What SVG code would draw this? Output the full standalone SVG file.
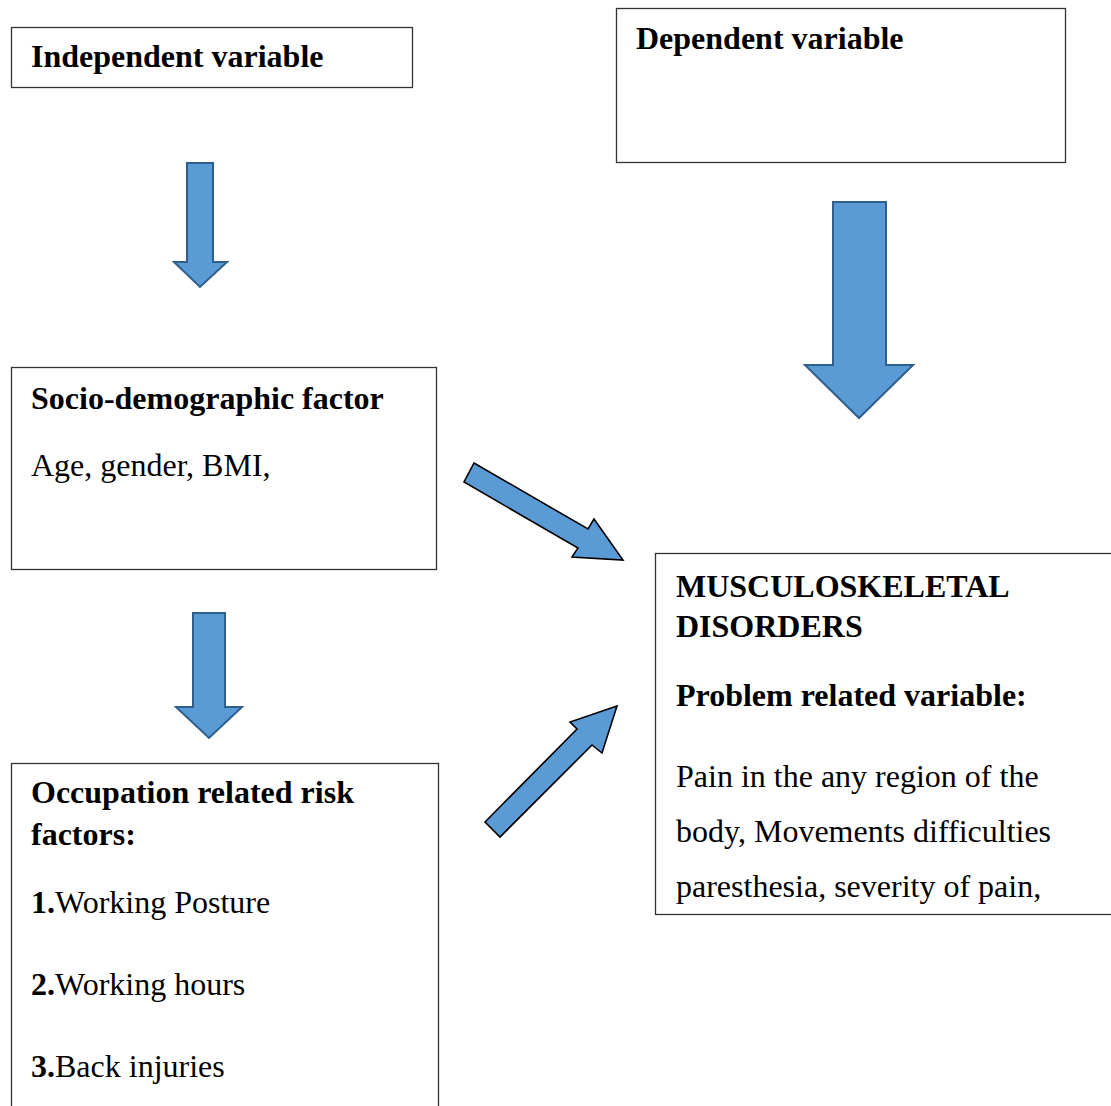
<svg xmlns="http://www.w3.org/2000/svg" width="1111" height="1106" viewBox="0 0 1111 1106">
<style>
.box{fill:#fff;stroke:#333;stroke-width:1.3}
.t{font-family:"Liberation Serif","Times New Roman",serif;font-size:32px;fill:#000}
.b{font-weight:bold}
.va{fill:#5B9BD5;stroke:#2F5F8C;stroke-width:2;stroke-linejoin:miter}
.da{fill:#5B9BD5;stroke:#000;stroke-width:1.6;stroke-linejoin:miter}
</style>
<rect width="1111" height="1106" fill="#fff"/>
<g id="independent">
<rect class="box" x="11.5" y="27.5" width="401" height="60"/>
<text class="t b" x="31" y="67">Independent variable</text>
</g>
<g id="dependent">
<rect class="box" x="616.5" y="8.5" width="449" height="154"/>
<text class="t b" x="636" y="49">Dependent variable</text>
</g>
<g id="socio">
<rect class="box" x="11.5" y="367.5" width="425" height="202"/>
<text class="t b" x="31" y="409">Socio-demographic factor</text>
<text class="t" x="31" y="476">Age, gender, BMI,</text>
</g>
<g id="msd">
<rect class="box" x="655.5" y="553.5" width="460" height="361"/>
<text class="t b" x="676" y="597">MUSCULOSKELETAL</text>
<text class="t b" x="676" y="637">DISORDERS</text>
<text class="t b" x="676" y="706">Problem related variable:</text>
<text class="t" x="676" y="787">Pain in the any region of the</text>
<text class="t" x="676" y="842">body, Movements difficulties</text>
<text class="t" x="676" y="897">paresthesia, severity of pain,</text>
</g>
<g id="occupation">
<rect class="box" x="11.5" y="763.5" width="427" height="360"/>
<text class="t b" x="31" y="803">Occupation related risk</text>
<text class="t b" x="31" y="845">factors:</text>
<text class="t" x="31" y="913"><tspan class="b">1.</tspan>Working Posture</text>
<text class="t" x="31" y="995"><tspan class="b">2.</tspan>Working hours</text>
<text class="t" x="31" y="1077"><tspan class="b">3.</tspan>Back injuries</text>
</g>
<g id="connectors">
<polygon class="va" points="187,163 213,163 213,262 227,262 200,287 174,262 187,262"/>
<polygon class="va" points="833,202 886,202 886,365 913,365 859,418 805,365 833,365"/>
<polygon class="va" points="193,613 225,613 225,707 242,707 209,738 176,707 193,707"/>
<polygon class="da" points="474,463 588,529 594,519 623,560 572,557 578,548 464,482"/>
<polygon class="da" points="485,822 577,729 570,722 617,706 602,753 592,745 500,837"/>
</g>
</svg>
